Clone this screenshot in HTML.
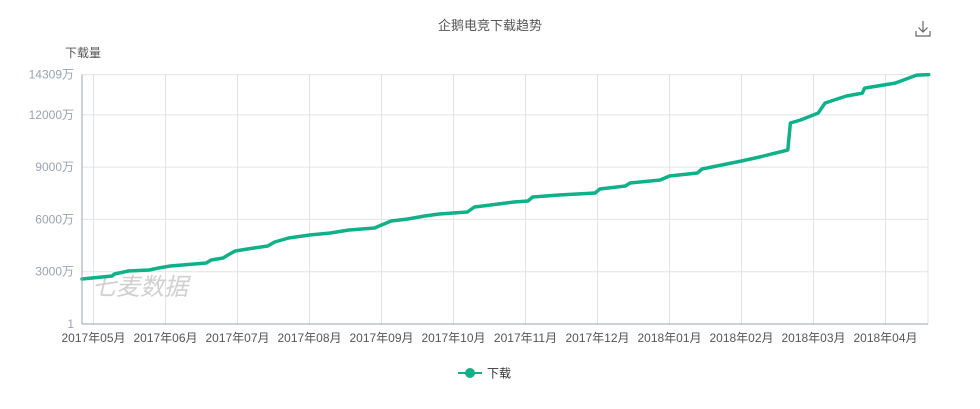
<!DOCTYPE html>
<html><head><meta charset="utf-8"><style>
body{margin:0;background:#fff;font-family:"Liberation Sans","Noto Sans CJK SC",sans-serif;}
svg text{font-family:"Liberation Sans","Noto Sans CJK SC",sans-serif;}
</style></head><body>
<svg id="c" width="980" height="404" viewBox="0 0 980 404">
<text x="490" y="30" text-anchor="middle" font-size="13" fill="#555">企鹅电竞下载趋势</text>
<g stroke="#666" stroke-width="1.2" fill="none">
<path d="M923 21 V32 M918.5 27.5 L923 32 L927.5 27.5 M916 31 V36 H930 V31"/>
</g>
<text x="65" y="57" font-size="12" fill="#555">下载量</text>
<g id="grid"></g>
<text x="92" y="295" font-size="24" font-style="italic" fill="#c8c8c8" fill-opacity="0.85">七麦数据</text>
<g id="series"></g>
<g id="axes"></g>
<g>
<line x1="458" y1="373" x2="482" y2="373" stroke="#10b088" stroke-width="2"/>
<circle cx="470" cy="373" r="5" fill="#10b088"/>
<text x="487" y="377.5" font-size="12" fill="#333">下载</text>
</g>
</svg>
<script>
const yTicks=[1,3000,6000,9000,12000,14309];
const monthLabels=["2017年05月","2017年06月","2017年07月","2017年08月","2017年09月","2017年10月","2017年11月","2017年12月","2018年01月","2018年02月","2018年03月","2018年04月"];
const dates=["2017-04-26","2017-05-09","2017-05-10","2017-05-16","2017-05-25","2017-05-29","2017-06-03","2017-06-18","2017-06-20","2017-06-25","2017-06-27","2017-06-30","2017-07-08","2017-07-14","2017-07-17","2017-07-23","2017-08-01","2017-08-10","2017-08-18","2017-08-29","2017-09-01","2017-09-05","2017-09-12","2017-09-19","2017-09-25","2017-10-07","2017-10-10","2017-10-17","2017-10-27","2017-11-02","2017-11-04","2017-11-15","2017-11-30","2017-12-02","2017-12-13","2017-12-15","2017-12-28","2018-01-01","2018-01-13","2018-01-15","2018-02-01","2018-02-08","2018-02-19","2018-02-20","2018-02-24","2018-03-03","2018-03-06","2018-03-15","2018-03-22","2018-03-23","2018-04-05","2018-04-14","2018-04-19"];
const downloads=[2581,2753,2868,3040,3098,3212,3327,3499,3671,3786,3958,4187,4359,4474,4704,4933,5105,5220,5392,5507,5679,5908,6023,6195,6310,6425,6711,6826,6998,7055,7285,7400,7515,7744,7916,8088,8260,8489,8661,8891,9350,9579,9981,11530,11702,12103,12677,13078,13250,13537,13824,14283,14309];

const NS="http://www.w3.org/2000/svg";
const L=82,R=928,T=74.6,B=324,M0=93.5,MW=72;
function yS(v){return B-(v-1)/(14309-1)*(B-T);}
function xS(d){const p=d.split("-").map(Number);const mi=(p[0]-2017)*12+(p[1]-5);const dim=new Date(p[0],p[1],0).getDate();return M0+MW*(mi+(p[2]-1)/dim);}
function mk(tag,a,parent){const e=document.createElementNS(NS,tag);for(const k in a)e.setAttribute(k,a[k]);parent.appendChild(e);return e;}
const grid=document.getElementById("grid"),axes=document.getElementById("axes"),series=document.getElementById("series");
yTicks.forEach(v=>{
  const y=yS(v);
  if(v>1){const g=mk("line",{x1:L,x2:R,y1:y,y2:y,stroke:"#e3e3e3","stroke-width":1},grid);
  
  }
  const t=mk("text",{x:L-8,y:y+4,"text-anchor":"end","font-size":12,fill:"#9aa3b2"},axes);
  t.textContent=v===1?"1":v+"万";
  
  
});
const rg=mk("line",{x1:R,x2:R,y1:T,y2:B,stroke:"#e3e3e3"},grid);


monthLabels.forEach((m,i)=>{
  const x=M0+MW*i;
  const g=mk("line",{x1:x,x2:x,y1:T,y2:B,stroke:"#e3e3e3"},grid);
  
  
  const t=mk("text",{x:x,y:342,"text-anchor":"middle","font-size":12,fill:"#555"},axes);
  t.textContent=m;
  
  
});
const ya=mk("line",{x1:L,x2:L,y1:T,y2:B,stroke:"#9aa3b2"},axes);


const xa=mk("line",{x1:L,x2:R,y1:B,y2:B,stroke:"#9aa3b2"},axes);


const pts=dates.map((d,i)=>Math.max(L,xS(d)).toFixed(1)+","+yS(downloads[i]).toFixed(1)).join(" ");
const pl=mk("polyline",{points:pts,fill:"none",stroke:"#10b088","stroke-width":3.5,"stroke-linejoin":"round","stroke-linecap":"round"},series);


</script>
</body></html>
